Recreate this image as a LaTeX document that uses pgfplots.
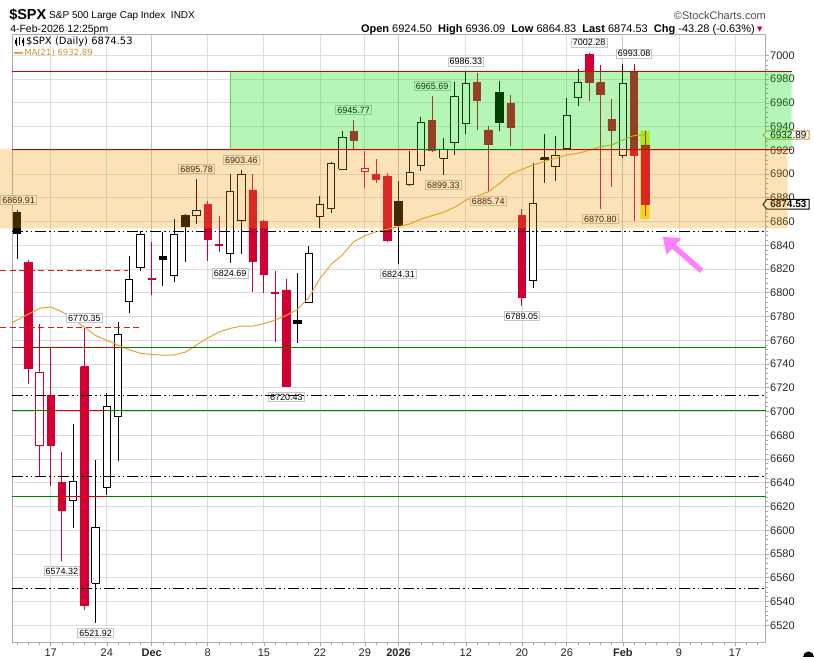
\documentclass[border=0pt]{standalone}
\usepackage{fontspec}
\setmainfont{Liberation Sans}
\newfontfamily\dejavu{DejaVu Sans}
\usepackage{pgfplots}
\usepackage{pgfplotstable}
\pgfplotsset{compat=1.18}
\usetikzlibrary{arrows.meta}
\definecolor{cred}{RGB}{210,0,50}
\definecolor{zg}{RGB}{0,220,0}
\definecolor{zo}{RGB}{240,150,0}
\definecolor{maor}{RGB}{228,165,50}
\definecolor{lgreen}{RGB}{0,128,0}
\definecolor{lred}{RGB}{215,0,0}
\definecolor{dred}{RGB}{238,20,20}
\definecolor{apink}{RGB}{255,128,255}
\definecolor{gridgray}{RGB}{222,222,222}
\definecolor{ylw}{RGB}{240,235,0}

\pgfplotsset{
 wick0/.style={black,line width=1pt,mark=none,forget plot},
 wick1/.style={black,line width=1pt,mark=none,forget plot},
 wick2/.style={cred,line width=1pt,mark=none,forget plot},
 wick3/.style={cred,line width=1pt,mark=none,forget plot},
 body0/.style={draw=black,fill=white,line width=1pt,line join=miter,mark=none,forget plot},
 body1/.style={draw=black,fill=black,line width=0.8pt,line join=miter,mark=none,forget plot},
 body2/.style={draw=cred,fill=white,line width=1pt,line join=miter,mark=none,forget plot},
 body3/.style={draw=cred,fill=cred,line width=0.8pt,line join=miter,mark=none,forget plot},
}
\tikzset{vl/.style={draw=gray!45, fill=white, font=\fontsize{9}{9}\selectfont, inner xsep=1.5pt, inner ysep=1.3pt, text height=6.6pt, text depth=0pt, line width=0.8pt},
 hl/.style={vl, anchor=south, yshift=5pt},
 ll/.style={vl, anchor=north, yshift=-5pt}}

% x = trading-day index (0 = 12 Nov 2025), o h l c, t: 0 hollow black, 1 filled black, 2 hollow red, 3 filled red
\pgfplotstableread{
x o h l c t
0 6867.5 6869.91 6828.5 6850.1 1
1 6825.9 6827.6 6723.2 6736.4 3
2 6671.2 6773.7 6645.5 6733.1 2
3 6713.3 6754.1 6637.6 6671.2 3
4 6640.4 6665.7 6574.32 6616.5 3
5 6625.3 6689.5 6602.2 6640.9 0
6 6737.8 6770.35 6532.9 6537.1 3
7 6555.4 6659.2 6521.92 6602.5 0
8 6636.2 6715.4 6629.7 6704.4 0
9 6695.7 6775.4 6658.6 6765.1 0
10 6792.5 6831.0 6782.7 6811.4 0
11 6821.1 6852.3 6818.6 6848.7 0
12 6812.0 6843.0 6798.1 6811.0 3
13 6830.5 6851.5 6805.3 6828.0 1
14 6814.4 6861.9 6809.4 6848.7 0
15 6865.5 6866.0 6826.2 6855.7 1
16 6865.0 6895.78 6857.7 6869.7 0
17 6874.3 6877.3 6827.0 6845.3 3
18 6840.8 6864.7 6834.6 6840.0 3
19 6832.7 6899.8 6824.69 6885.1 0
20 6860.5 6903.46 6832.7 6899.8 0
21 6886.6 6899.8 6801.0 6826.2 3
22 6860.0 6861.3 6800.1 6815.6 3
23 6800.2 6818.4 6758.8 6799.4 3
24 6802.4 6811.4 6720.43 6721.5 3
25 6777.0 6816.4 6757.5 6774.0 1
26 6791.7 6839.4 6791.0 6833.3 0
27 6864.1 6881.5 6854.3 6874.0 0
28 6871.2 6910.4 6867.5 6909.0 0
29 6904.0 6936.3 6903.0 6930.9 0
30 6935.7 6945.77 6921.1 6928.7 3
31 6902.0 6919.6 6888.0 6905.0 2
32 6899.8 6912.6 6892.2 6895.6 3
33 6898.4 6900.6 6843.0 6843.9 3
34 6877.3 6894.1 6824.31 6857.1 1
35 6890.8 6919.6 6889.9 6901.5 0
36 6907.0 6947.7 6902.8 6943.6 0
37 6945.0 6965.69 6918.8 6920.3 3
38 6913.3 6930.0 6899.33 6920.8 0
39 6926.4 6977.8 6916.1 6965.1 0
40 6942.7 6986.33 6933.5 6976.4 0
41 6977.0 6984.8 6937.1 6962.4 3
42 6937.1 6940.5 6885.74 6925.3 3
43 6968.9 6978.4 6936.5 6943.3 1
44 6959.6 6966.6 6923.6 6939.0 3
45 6864.8 6870.3 6789.05 6795.9 3
46 6810.0 6909.6 6803.8 6874.8 0
47 6913.8 6933.7 6892.7 6912.5 1
48 6906.2 6932.0 6894.4 6915.3 0
49 6921.7 6963.8 6921.0 6949.7 0
50 6964.7 6988.5 6957.6 6977.3 0
51 7001.1 7002.28 6961.8 6977.0 3
52 6977.0 6991.8 6870.80 6967.4 3
53 6946.3 6963.0 6889.3 6937.1 3
54 6915.8 6992.7 6913.3 6975.9 0
55 6985.4 6993.08 6860.7 6916.1 3
56 6924.50 6936.09 6864.83 6874.53 3
}\candles

\begin{document}
\begin{tikzpicture}
\begin{axis}[
 at={(12pt,14.3pt)}, anchor=south west, scale only axis,
 width=753.7pt, height=608.4pt,
 xmin=-0.446, xmax=66.73, ymin=6505.35, ymax=7017.7,
 clip=false, set layers,
 axis line style={draw=gray!65, line width=0.8pt},
 ytick={6520,6540,...,7000}, yticklabel pos=right, ytick pos=right,
 minor y tick num=4,
 yticklabel style={font=\fontsize{11}{11}\selectfont, text=black!85, anchor=west, xshift=-2.5pt, inner ysep=1pt},
 /pgf/number format/.cd, 1000 sep={}, fixed, precision=0, assume math mode=true, /pgfplots/.cd,
 xtick={3,8,17,22,27,31,40,45,49,59,64},
 xticklabels={17,24,8,15,22,29,12,20,26,9,17},
 extra x ticks={12,34,54},
 extra x tick labels={\textbf{Dec},\textbf{2026},\textbf{Feb}},
 extra x tick style={grid=major, major grid style={draw=gray!45, line width=0.8pt}},
 minor xtick={0,1,...,66},
 xtick pos=lower,
 xticklabel style={font=\fontsize{11}{11}\selectfont, text=black!85, yshift=1pt},
 grid=major, major grid style={draw=gridgray, line width=0.8pt},
 tick align=outside, major tick length=3.5pt, minor tick length=2pt,
 tick style={draw=gray!70, line width=0.6pt},
]
% yellow highlight of the last candle
\addplot[fill=ylw, draw=none, fill opacity=0.85, forget plot] coordinates {(55.55,6862.1) (56.39,6862.1) (56.39,6936.5) (55.55,6936.5) (55.55,6862.1)};
% candles
\pgfplotsforeachungrouped \i in {0,...,56}{%
  \pgfplotstablegetelem{\i}{x}\of\candles \let\cx\pgfplotsretval
  \pgfplotstablegetelem{\i}{o}\of\candles \let\co\pgfplotsretval
  \pgfplotstablegetelem{\i}{h}\of\candles \let\ch\pgfplotsretval
  \pgfplotstablegetelem{\i}{l}\of\candles \let\cl\pgfplotsretval
  \pgfplotstablegetelem{\i}{c}\of\candles \let\cc\pgfplotsretval
  \pgfplotstablegetelem{\i}{t}\of\candles \let\ct\pgfplotsretval
  \pgfmathsetmacro\xl{\cx-0.33}\pgfmathsetmacro\xr{\cx+0.33}%
  \edef\tmp{\noexpand\addplot[wick\ct] coordinates {(\cx,\ch) (\cx,\cl)};%
    \noexpand\addplot[body\ct] coordinates {(\xl,\co) (\xr,\co) (\xr,\cc) (\xl,\cc) (\xl,\co)};}%
  \tmp
}
% MA(21)
\addplot[maor, line width=1pt, mark=none, forget plot] coordinates {
(-0.45,6774.8) (0,6777) (1,6782) (2,6787) (3,6788) (4,6784) (5,6778) (6,6771) (7,6764) (8,6760)
(9,6756) (10,6752) (11,6749) (12,6748) (13,6747.5) (14,6747.6) (15,6750) (16,6756) (17,6762)
(18,6767) (19,6770) (20,6772) (21,6772) (22,6774) (23,6777) (24,6781) (25,6786) (26,6796)
(27,6812) (28,6824) (29,6832) (30,6843) (31,6848) (32,6851.5) (33,6853.5) (34,6855.7) (35,6858)
(36,6862) (37,6865) (38,6867.8) (39,6872) (40,6878) (41,6881.5) (42,6885) (43,6892) (44,6900)
(45,6904) (46,6907.6) (47,6910.5) (48,6913.5) (49,6916) (50,6917.5) (51,6920) (52,6923)
(53,6924.5) (54,6928.7) (55,6932.5) (56,6932.89)};
% value labels
\node[hl, xshift=1.5pt] at (axis cs:0,6869.91) {6869.91};
\node[hl] at (axis cs:6,6770.35) {6770.35};
\node[hl] at (axis cs:16,6895.78) {6895.78};
\node[hl] at (axis cs:20,6903.46) {6903.46};
\node[hl] at (axis cs:30,6945.77) {6945.77};
\node[hl] at (axis cs:37,6965.69) {6965.69};
\node[hl] at (axis cs:40,6986.33) {6986.33};
\node[hl] at (axis cs:51,7002.28) {7002.28};
\node[hl] at (axis cs:55,6993.08) {6993.08};
\node[ll] at (axis cs:4,6574.32) {6574.32};
\node[ll] at (axis cs:7,6521.92) {6521.92};
\node[ll] at (axis cs:19,6824.69) {6824.69};
\node[ll] at (axis cs:24,6720.43) {6720.43};
\node[ll] at (axis cs:34,6824.31) {6824.31};
\node[ll] at (axis cs:38,6899.33) {6899.33};
\node[ll] at (axis cs:42,6885.74) {6885.74};
\node[ll] at (axis cs:45,6789.05) {6789.05};
\node[ll] at (axis cs:52,6870.80) {6870.80};
% right side value markers
\draw[draw=maor!90!black, fill=white, line width=0.9pt] (axis cs:66.49,6932.89) -- (axis cs:66.84,6936.4) -- (axis cs:70.6,6936.4) -- (axis cs:70.6,6929.4) -- (axis cs:66.84,6929.4) -- cycle;
\node[font=\fontsize{10}{10}\selectfont, inner sep=0pt] at (axis cs:68.75,6932.89) {6932.89};
\draw[draw=black, fill=white, line width=1pt] (axis cs:66.49,6874.53) -- (axis cs:66.84,6878.6) -- (axis cs:70.6,6878.6) -- (axis cs:70.6,6870.4) -- (axis cs:66.84,6870.4) -- cycle;
\node[font=\bfseries\fontsize{10}{10}\selectfont, inner sep=0pt] at (axis cs:68.75,6874.53) {6874.53};
% zones
\addplot[fill=zg, fill opacity=0.29, draw=none, forget plot] coordinates {(18.98,6921.1) (69.05,6921.1) (69.05,6986.2) (18.98,6986.2) (18.98,6921.1)};
\addplot[fill=zo, fill opacity=0.28, draw=none, forget plot] coordinates {(-1.515,6854.3) (68.69,6854.3) (68.69,6921.1) (-1.515,6921.1) (-1.515,6854.3)};
\addplot[color=green!70!black!60!white, line width=0.8pt, forget plot] coordinates {(18.98,6921.1) (18.98,6986.2)};
% horizontal levels
\addplot[lred, line width=0.9pt, forget plot] coordinates {(-0.446,6986.2) (69.05,6986.2)};
\addplot[lred, line width=0.9pt, forget plot] coordinates {(-0.446,6921.1) (69.05,6921.1)};
\addplot[lgreen, line width=0.9pt, forget plot] coordinates {(35.65,6921.1) (45.0,6921.1)};
\addplot[black, line width=1.1pt, dash pattern=on 11pt off 3pt on 1.5pt off 3pt on 1.5pt off 3pt, forget plot] coordinates {(-0.446,6851.8) (66.6,6851.8)};
\addplot[black, line width=1.1pt, dash pattern=on 11pt off 3pt on 1.5pt off 3pt on 1.5pt off 3pt, forget plot] coordinates {(-0.446,6713.4) (66.6,6713.4)};
\addplot[black, line width=1.1pt, dash pattern=on 11pt off 3pt on 1.5pt off 3pt on 1.5pt off 3pt, forget plot] coordinates {(-0.446,6645.5) (66.6,6645.5)};
\addplot[black, line width=1.1pt, dash pattern=on 11pt off 3pt on 1.5pt off 3pt on 1.5pt off 3pt, forget plot] coordinates {(-0.446,6551.2) (66.6,6551.2)};
\addplot[lgreen, line width=0.9pt, forget plot] coordinates {(-0.446,6754.1) (66.73,6754.1)};
\addplot[lgreen, line width=0.9pt, forget plot] coordinates {(-0.446,6701.0) (66.73,6701.0)};
\addplot[lgreen, line width=0.9pt, forget plot] coordinates {(-0.446,6628.9) (66.73,6628.9)};
\addplot[lred, line width=0.9pt, forget plot] coordinates {(-0.446,6754.1) (9.18,6754.1)};
\addplot[lred, line width=0.9pt, forget plot] coordinates {(2.94,6701.0) (7.93,6701.0)};
\addplot[lred, line width=0.9pt, forget plot] coordinates {(3.57,6628.9) (7.93,6628.9)};
\addplot[dred, line width=0.9pt, dash pattern=on 6pt off 3.5pt, forget plot] coordinates {(-1.48,6819.2) (9.89,6819.2)};
\addplot[dred, line width=0.9pt, dash pattern=on 6pt off 3.5pt, forget plot] coordinates {(-1.48,6771.2) (10.87,6771.2)};
% annotation arrow
\draw[apink, line width=5.5pt, -{Triangle[width=21pt,length=15pt]}] (axis cs:61.02,6818.4) -- (axis cs:57.55,6847.2);
\end{axis}
% header
\node[anchor=base west, inner sep=0pt, font=\bfseries\fontsize{14.5}{14.5}\selectfont] at (9pt,637pt) {\$SPX};
\node[anchor=base west, inner sep=0pt, font=\fontsize{10}{10}\selectfont] at (49pt,638pt) {S\&P 500 Large Cap Index\ \ INDX};
\node[anchor=base west, inner sep=0pt, font=\fontsize{10.5}{10.5}\selectfont] at (10pt,624pt) {4-Feb-2026 12:25pm};
\node[anchor=base east, inner sep=0pt, font=\fontsize{11}{11}\selectfont] at (755pt,624pt) {\textbf{Open} 6924.50\ \ \textbf{High} 6936.09\ \ \textbf{Low} 6864.83\ \ \textbf{Last} 6874.53\ \ \textbf{Chg} -43.28 (-0.63\%)};
\node[anchor=base west, inner sep=0pt, font=\dejavu\fontsize{7}{7}\selectfont, text=cred] at (757pt,625pt) {▼};
\node[anchor=base east, inner sep=0pt, font=\fontsize{11}{11}\selectfont, text=black!70] at (766pt,637pt) {©StockCharts.com};
% legend inside the chart
\draw[black, line width=0.8pt] (16pt,619pt) -- (16pt,611pt) (19.5pt,620pt) -- (19.5pt,612pt) (23pt,619pt) -- (23pt,611pt);
\fill[black] (15pt,617pt) rectangle (17pt,613pt) (22pt,617pt) rectangle (24pt,614pt);
\node[anchor=west, inner sep=0pt, font=\dejavu\fontsize{10}{10}\selectfont] at (26pt,615.3pt) {\$SPX (Daily) 6874.53};
\draw[maor, line width=2pt] (14pt,604.3pt) -- (22.5pt,604.3pt);
\node[anchor=west, inner sep=0pt, font=\dejavu\fontsize{8.5}{8.5}\selectfont, text=maor!90!black] at (24pt,604.3pt) {MA(21) 6932.89};
\fill[black] (803pt,0pt) arc[start angle=180, end angle=0, radius=5.5pt] -- cycle;
\path (0,0) rectangle (814pt,657pt);
\end{tikzpicture}
\end{document}
